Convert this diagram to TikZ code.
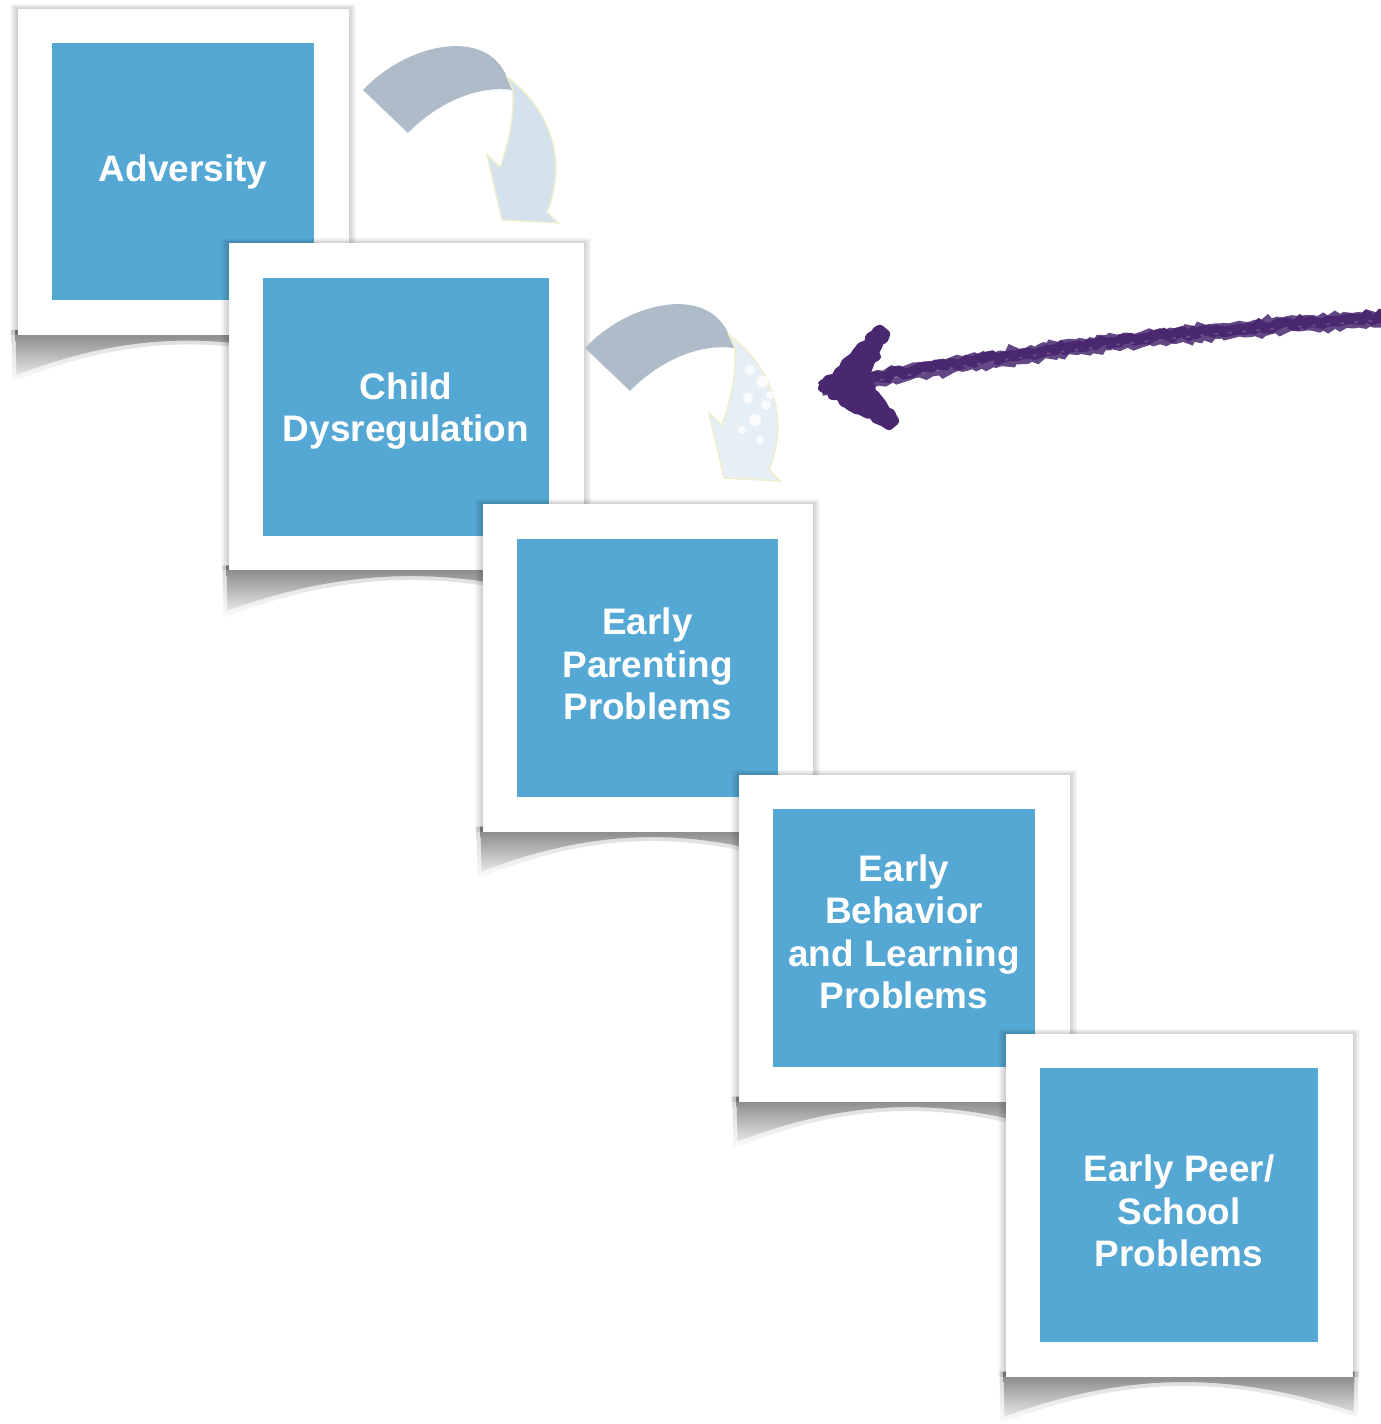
\documentclass[tikz,border=0pt]{standalone}
\usepackage{fontspec}
\setmainfont{Liberation Sans}
\usetikzlibrary{decorations.pathmorphing}

\definecolor{tileblue}{RGB}{86,168,212}
\definecolor{ribbondark}{RGB}{173,188,200}
\definecolor{ribbonlight}{RGB}{212,226,238}
\definecolor{ribbonedge}{RGB}{238,238,205}
\definecolor{chalk}{RGB}{74,40,112}

\tikzset{
  card/.style={fill=white, inner sep=0pt},
  tile/.style={fill=tileblue, inner sep=0pt},
  tiletext/.style={text=white, align=center, inner sep=0pt,
    font=\bfseries\fontsize{10.5}{12.1}\selectfont},
  chalky/.style={decorate, decoration={random steps, segment length=1.5pt, amplitude=0.7pt}},
}

\begin{document}
\begin{tikzpicture}
\useasboundingbox (0,0) rectangle (13.81,-14.24);
\fill[white] (0,0) rectangle (13.81,-14.24);

% cards, one after the other so each one lies on the one before
\foreach \n/\cx/\cy/\w/\h/\ty/\txt in {
    1/1.83/1.72/2.62/2.57/0/Adversity,
    2/4.06/4.07/2.86/2.58/-0.04/{Child\\Dysregulation},
    3/6.475/6.68/2.61/2.58/0.04/{Early\\Parenting\\Problems},
    4/9.04/9.38/2.62/2.58/0.06/{Early\\Behavior\\and Learning\\Problems},
    5/11.79/12.05/2.78/2.74/-0.06/{Early Peer/\\School\\Problems}}
{
  \pgfmathsetmacro{\halfw}{\w/2+0.345}
  \pgfmathsetmacro{\halfh}{\h/2+0.345}
  \pgfmathsetmacro{\cardw}{2*\halfw}
  \pgfmathsetmacro{\cardh}{2*\halfh}
  % curled shadow, twice for a soft rim
  \shade[top color=black!30, bottom color=black!3, opacity=0.5]
    ({\cx-\halfw-0.06},{-\cy-\halfh+0.05}) -- ({\cx+\halfw+0.06},{-\cy-\halfh+0.05})
    -- ({\cx+\halfw+0.05},{-\cy-\halfh-0.41})
    .. controls ({\cx+0.3*\halfw},{-\cy-\halfh+0.02}) and ({\cx-0.3*\halfw},{-\cy-\halfh+0.02}) ..
    ({\cx-\halfw-0.05},{-\cy-\halfh-0.47}) -- cycle;
  \shade[top color=black!60, bottom color=black!12, opacity=0.75]
    ({\cx-\halfw-0.02},{-\cy-\halfh+0.05}) -- ({\cx+\halfw+0.02},{-\cy-\halfh+0.05})
    -- ({\cx+\halfw+0.01},{-\cy-\halfh-0.35})
    .. controls ({\cx+0.3*\halfw},{-\cy-\halfh+0.05}) and ({\cx-0.3*\halfw},{-\cy-\halfh+0.05}) ..
    ({\cx-\halfw-0.01},{-\cy-\halfh-0.40}) -- cycle;
  % soft edge
  \foreach \s in {1,...,5}
    \fill[black, opacity=0.035]
      ({\cx-\halfw-0.015*\s},{-\cy+\halfh+0.01*\s}) rectangle ({\cx+\halfw+0.015*\s},{-\cy-\halfh});
  \node[card, minimum width=\cardw cm, minimum height=\cardh cm] (card\n) at (\cx,-\cy) {};
  \node[tile, minimum width=\w cm, minimum height=\h cm] (tile\n) at (card\n) {};
  \node[tiletext, yshift=\ty cm] (text\n) at (tile\n) {\txt};
}

% bent arrows
\foreach \dx/\dy/\lightfill in {0/0/ribbonlight, 2.22/-2.58/ribbonlight!55}
{
  \begin{scope}[shift={(\dx,\dy)}]
    \fill[ribbondark] (3.63,-0.90) .. controls (4.05,-0.45) and (4.85,-0.25) .. (5.07,-0.77)
      -- (5.12,-0.90) .. controls (4.75,-0.85) and (4.35,-1.05) .. (4.08,-1.33) -- cycle;
    \filldraw[fill=\lightfill, draw=ribbonedge, line width=0.4pt]
      (5.07,-0.77) .. controls (5.45,-1.05) and (5.70,-1.55) .. (5.47,-2.12)
      -- (5.58,-2.23) -- (5.02,-2.20) -- (4.87,-1.55) -- (5.00,-1.67)
      .. controls (5.10,-1.40) and (5.14,-1.15) .. (5.13,-0.90) -- cycle;
  \end{scope}
}
% worn spots on the second one
\foreach \px/\py/\r in {7.50/-3.70/0.05, 7.62/-3.82/0.06, 7.48/-3.98/0.05, 7.66/-4.05/0.05,
    7.55/-4.20/0.06, 7.70/-3.95/0.04, 7.42/-4.30/0.04, 7.60/-4.40/0.04}
  \fill[white, opacity=0.8] (\px,\py) circle (\r);

% chalk arrow
\coordinate (chalkstart) at (13.86,-3.18);
\coordinate (chalktip) at (8.22,-3.88);
\draw[chalk, line width=4.4pt, opacity=0.85, chalky] (chalkstart) to[bend right=3] (chalktip);
\draw[chalk, line width=3pt, chalky] ([yshift=0.4pt]chalkstart) to[bend right=3] ([yshift=0.4pt]chalktip);
\draw[white, opacity=0.18, line width=0.5pt, dash pattern=on 1pt off 3pt] ([yshift=-0.6pt]chalkstart) to[bend right=3] ([yshift=-0.6pt]chalktip);
\filldraw[chalk, line width=2.4pt, line join=round, chalky] (chalktip) -- (8.80,-3.29) -- (8.86,-3.34)
  -- (8.66,-3.74) -- (8.72,-3.93) -- (8.95,-4.21) -- (8.89,-4.26) -- cycle;
\end{tikzpicture}
\end{document}
